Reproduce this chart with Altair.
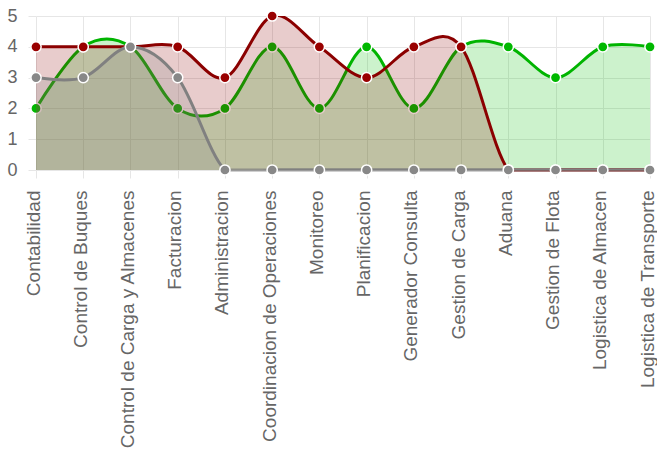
import altair as alt
import pandas as pd

# Categories along the x axis
categories = [
    "Contabilidad",
    "Control de Buques",
    "Control de Carga y Almacenes",
    "Facturacion",
    "Administracion",
    "Coordinacion de Operaciones",
    "Monitoreo",
    "Planificacion",
    "Generador Consulta",
    "Gestion de Carga",
    "Aduana",
    "Gestion de Flota",
    "Logistica de Almacen",
    "Logistica de Transporte",
]

# Series values (one per category)
serie_roja = [4, 4, 4, 4, 3, 5, 4, 3, 4, 4, 0, 0, 0, 0]
serie_verde = [2, 4, 4, 2, 2, 4, 2, 4, 2, 4, 4, 3, 4, 4]
serie_gris = [3, 3, 4, 3, 0, 0, 0, 0, 0, 0, 0, 0, 0, 0]

y_ticks = [0, 1, 2, 3, 4, 5]

rows = []
for name, values in [("roja", serie_roja), ("verde", serie_verde), ("gris", serie_gris)]:
    for cat, v in zip(categories, values):
        rows.append({"categoria": cat, "serie": name, "valor": v})
df = pd.DataFrame(rows)

FONT = "Liberation Sans"
GRID = "#e6e6e6"

x_enc = alt.X(
    "categoria:N",
    sort=categories,
    scale=alt.Scale(type="point", padding=0),
    axis=alt.Axis(
        title=None,
        labelAngle=-90,
        labelFont=FONT,
        labelFontSize=19,
        labelColor="#666666",
        labelPadding=12,
        labelOffset=-3,
        labelLimit=0,
        tickSize=8,
        tickColor=GRID,
        domain=False,
        grid=True,
        gridColor=GRID,
        labelOverlap=False,
    ),
)
y_enc = alt.Y(
    "valor:Q",
    scale=alt.Scale(domain=[0, 5], nice=False, zero=True),
    axis=alt.Axis(
        title=None,
        values=y_ticks,
        format="d",
        labelFont=FONT,
        labelFontSize=18,
        labelColor="#666666",
        labelPadding=11,
        tickSize=8,
        tickColor=GRID,
        domain=False,
        grid=True,
        gridColor=GRID,
    ),
)

styles = {
    "verde": {"line": "#00b400", "fill": "#00c000", "point": "#00b800", "zero_op": 1.0},
    "roja": {"line": "#8b0000", "fill": "#8b0000", "point": "#990000", "zero_op": 1.0},
    "gris": {"line": "#808080", "fill": "#808080", "point": "#888888", "zero_op": 0.75},
}

layers = []
for name in ["verde", "roja", "gris"]:
    st = styles[name]
    base = alt.Chart(df).transform_filter(alt.datum.serie == name).encode(x=x_enc, y=y_enc)
    # curves are kept inside the plot area so the spline never dips under zero
    area = base.mark_area(
        interpolate="cardinal", tension=0, color=st["fill"], fillOpacity=0.2, clip=True
    )
    line = base.mark_line(
        interpolate="cardinal", tension=0, color=st["line"], strokeWidth=3, clip=True
    )
    layers += [area, line]
    if 0 in dict(verde=serie_verde, roja=serie_roja, gris=serie_gris)[name]:
        # full-width stroke along the zero baseline (not clipped)
        zero = (
            alt.Chart(df)
            .transform_filter((alt.datum.serie == name) & (alt.datum.valor == 0))
            .encode(x=x_enc, y=y_enc)
            .mark_line(color=st["line"], strokeWidth=3, opacity=st["zero_op"])
        )
        layers.append(zero)
    pts = base.mark_circle(
        size=105, color=st["point"], opacity=1, stroke="white", strokeWidth=1.5
    )
    layers.append(pts)

chart = (
    alt.layer(*layers)
    .properties(
        width=614,
        height=154,
        autosize=alt.AutoSizeParams(type="none"),
        padding={"left": 36, "top": 16, "right": 7, "bottom": 291},
        background="white",
    )
    .configure_view(stroke=None)
)

chart.save("out.html", embed_options={"renderer": "svg", "actions": False})
